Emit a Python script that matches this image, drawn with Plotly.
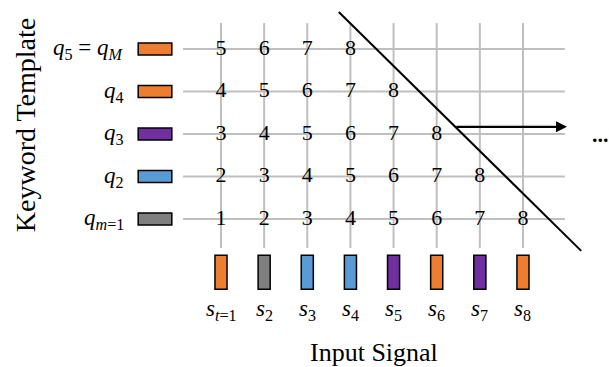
import plotly.graph_objects as go

ORANGE = "#ED7D31"
GRAY = "#7F7F7F"
BLUE = "#5B9BD5"
PURPLE = "#7030A0"

# Input signal (columns)
signal_index = [1, 2, 3, 4, 5, 6, 7, 8]
signal_labels = ["<i>s</i><sub><i>t</i>=1</sub>", "<i>s</i><sub>2</sub>", "<i>s</i><sub>3</sub>",
                 "<i>s</i><sub>4</sub>", "<i>s</i><sub>5</sub>", "<i>s</i><sub>6</sub>",
                 "<i>s</i><sub>7</sub>", "<i>s</i><sub>8</sub>"]
signal_colors = [ORANGE, GRAY, BLUE, BLUE, PURPLE, ORANGE, PURPLE, ORANGE]

# Keyword template (rows)
template_index = [1, 2, 3, 4, 5]
template_labels = ["<i>q</i><sub><i>m</i>=1</sub>", "<i>q</i><sub>2</sub>", "<i>q</i><sub>3</sub>",
                   "<i>q</i><sub>4</sub>", "<i>q</i><sub>5</sub> = <i>q</i><sub><i>M</i></sub>"]
template_colors = [GRAY, BLUE, PURPLE, ORANGE, ORANGE]

# Cell values, one list per template row (row m, starting at column 1)
cell_values = [
    [1, 2, 3, 4, 5, 6, 7, 8],
    [2, 3, 4, 5, 6, 7, 8],
    [3, 4, 5, 6, 7, 8],
    [4, 5, 6, 7, 8],
    [5, 6, 7, 8],
]

SERIF = "Liberation Serif, DejaVu Serif, serif"

fig = go.Figure()
shapes = []
annotations = []

# grid lines
for m in template_index:
    shapes.append(dict(type="line", xref="x", yref="y", x0=0.12, x1=8.97, y0=m, y1=m,
                       line=dict(color="#BFBFBF", width=2), layer="below"))
for t in signal_index:
    shapes.append(dict(type="line", xref="x", yref="y", x0=t, x1=t, y0=0.32, y1=5.61,
                       line=dict(color="#BFBFBF", width=2), layer="below"))

# cell numbers
xs, ys, txt = [], [], []
for r, row in enumerate(cell_values):
    for c, v in enumerate(row):
        xs.append(signal_index[c])
        ys.append(template_index[r])
        txt.append(str(v))
fig.add_trace(go.Scatter(x=xs, y=ys, mode="text", text=txt, textposition="middle center",
                         textfont=dict(family=SERIF, size=22, color="black"),
                         hoverinfo="skip", showlegend=False))

# diagonal line
shapes.append(dict(type="line", xref="x", yref="y", x0=3.73, y0=5.87, x1=9.35, y1=0.25,
                   line=dict(color="black", width=2)))

# template boxes and labels
for m, lab, col in zip(template_index, template_labels, template_colors):
    shapes.append(dict(type="rect", xref="x", yref="y", x0=-0.92, x1=-0.14, y0=m - 0.14, y1=m + 0.14,
                       fillcolor=col, line=dict(color="black", width=1.5)))
    annotations.append(dict(x=-1.2, y=m, xref="x", yref="y", text=lab, showarrow=False,
                            xanchor="right", yanchor="middle",
                            font=dict(family=SERIF, size=23, color="black")))

# signal boxes and labels
for t, lab, col in zip(signal_index, signal_labels, signal_colors):
    shapes.append(dict(type="rect", xref="x", yref="y", x0=t - 0.14, x1=t + 0.14, y0=-0.65, y1=0.15,
                       fillcolor=col, line=dict(color="black", width=1.5)))
    annotations.append(dict(x=t, y=-1.15, xref="x", yref="y", text=lab, showarrow=False,
                            xanchor="center", yanchor="middle",
                            font=dict(family=SERIF, size=23, color="black")))

# arrow
annotations.append(dict(x=9.02, y=3.17, ax=6.42, ay=3.17, xref="x", yref="y", axref="x", ayref="y",
                        text="", showarrow=True, arrowhead=2, arrowsize=1, arrowwidth=2.2,
                        arrowcolor="black"))
# ellipsis
annotations.append(dict(x=9.55, y=3.0, xref="x", yref="y", text="<b>...</b>", showarrow=False,
                        xanchor="left", yanchor="middle",
                        font=dict(family=SERIF, size=22, color="black")))

# axis titles
annotations.append(dict(x=4.55, y=-2.15, xref="x", yref="y", text="Input Signal", showarrow=False,
                        xanchor="center", yanchor="middle",
                        font=dict(family=SERIF, size=26, color="black")))
annotations.append(dict(x=-3.54, y=3.21, xref="x", yref="y", text="Keyword Template", showarrow=False,
                        textangle=-90, xanchor="center", yanchor="middle",
                        font=dict(family=SERIF, size=28, color="black")))

fig.update_layout(
    width=609, height=367,
    margin=dict(l=0, r=0, t=0, b=0),
    paper_bgcolor="white", plot_bgcolor="white",
    xaxis=dict(range=[-4.123, 9.994], visible=False, fixedrange=True),
    yaxis=dict(range=[-2.482, 6.153], visible=False, fixedrange=True),
    shapes=shapes, annotations=annotations, showlegend=False,
)

fig.write_html("out.html", config={"displayModeBar": False},
               post_script="document.body.style.margin='0';document.body.style.overflow='hidden';")
